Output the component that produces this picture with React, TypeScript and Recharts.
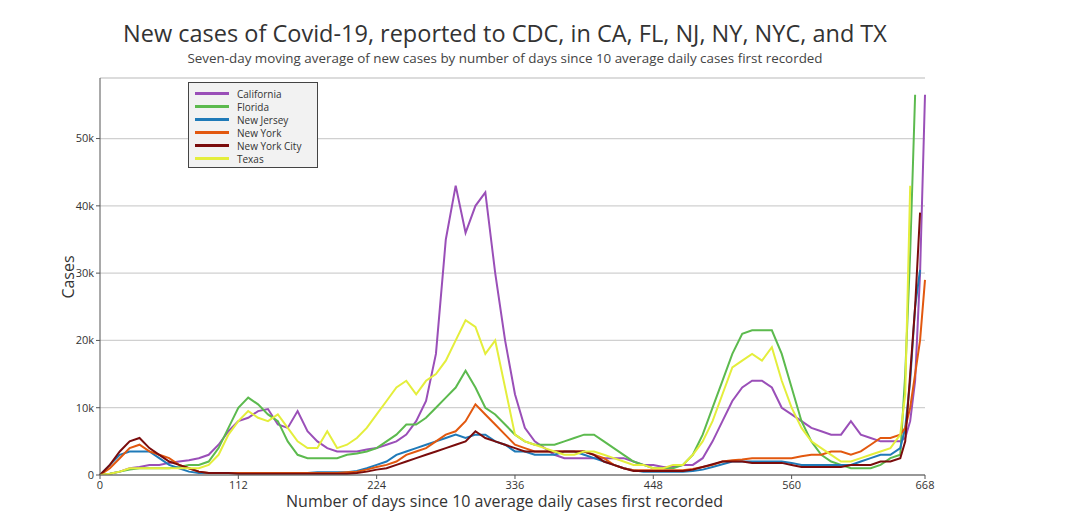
import { LineChart, Line, XAxis, YAxis, CartesianGrid } from 'recharts';

// days since 10 average daily cases first recorded
const days = [
  0, 8, 16, 24, 32, 40, 48, 56, 64, 72,
  80, 88, 96, 104, 112, 120, 128, 136, 144, 152,
  160, 168, 176, 184, 192, 200, 208, 216, 224, 232,
  240, 248, 256, 264, 272, 280, 288, 296, 304, 312,
  320, 328, 336, 344, 352, 360, 368, 376, 384, 392,
  400, 408, 416, 424, 432, 440, 448, 456, 464, 472,
  480, 488, 496, 504, 512, 520, 528, 536, 544, 552,
  560, 568, 576, 584, 592, 600, 608, 616, 624, 632,
  640, 648, 652, 656, 660, 664, 668,
];

// seven-day averages, thousands of cases
const california = [
  0, 0.2, 0.5, 1, 1.2, 1.5, 1.5, 1.8, 2, 2.2,
  2.5, 3, 4.5, 6.5, 8, 8.5, 9.5, 9.8, 7.5, 7,
  9.5, 6.5, 5, 4, 3.5, 3.5, 3.5, 3.8, 4, 4.5,
  5, 6, 8, 11, 18, 35, 43, 36, 40, 42,
  30, 20, 12, 7, 5, 4, 3, 2.5, 2.5, 2.5,
  2.5, 2.5, 2.5, 2.5, 2, 1.5, 1.5, 1.2, 1.2, 1.5,
  1.5, 2.5, 5, 8, 11, 13, 14, 14, 13, 10,
  9, 8, 7, 6.5, 6, 6, 8, 6, 5.5, 5,
  5, 5, 5.5, 8, 14, 30, 56.5,
];
const florida = [
  0, 0.2, 0.5, 0.8, 1, 1, 1, 1, 1.2, 1.5,
  1.5, 2, 4, 7, 10, 11.5, 10.5, 9, 8, 5,
  3, 2.5, 2.5, 2.5, 2.5, 3, 3.2, 3.5, 4, 5,
  6, 7.5, 7.5, 8.5, 10, 11.5, 13, 15.5, 13, 10,
  9, 7.5, 6, 5, 4.5, 4.5, 4.5, 5, 5.5, 6,
  6, 5, 4, 3, 2, 1.5, 1, 1, 1, 1.5,
  3, 6, 10, 14, 18, 21, 21.5, 21.5, 21.5, 18,
  13, 8, 5, 3, 2, 1.5, 1, 1, 1, 1.5,
  2.5, 3, 15, 33, 56.5, null, null,
];
const newJersey = [
  0, 1.5, 3, 3.5, 3.5, 3.5, 2.5, 1.5, 1, 0.5,
  0.3, 0.3, 0.3, 0.3, 0.3, 0.3, 0.3, 0.3, 0.3, 0.3,
  0.3, 0.3, 0.4, 0.4, 0.4, 0.4, 0.6, 1, 1.5, 2,
  3, 3.5, 4, 4.5, 5, 5.5, 6, 5.5, 6, 6,
  5, 4.5, 3.5, 3.5, 3, 3, 3, 3.5, 3.5, 3,
  2.5, 2, 1.5, 1, 0.7, 0.5, 0.5, 0.5, 0.5, 0.5,
  0.6, 0.8, 1.2, 1.6, 2, 2, 2, 2, 2, 2,
  1.8, 1.5, 1.5, 1.5, 1.5, 1.5, 1.5, 2, 2.5, 3,
  3, 4, 7, 14, 25, 30.5, null,
];
const newYork = [
  0, 1, 2.5, 4, 4.5, 3.5, 3, 2.5, 1.5, 1,
  0.5, 0.3, 0.3, 0.3, 0.3, 0.3, 0.3, 0.3, 0.3, 0.3,
  0.3, 0.3, 0.3, 0.3, 0.3, 0.4, 0.5, 0.8, 1.2, 1.5,
  2, 3, 3.5, 4, 5, 6, 6.5, 8, 10.5, 9,
  7.5, 6, 4.5, 4, 3.5, 3.5, 3.5, 3.5, 3.5, 3.5,
  3, 2.5, 1.5, 1, 0.7, 0.7, 0.7, 0.7, 0.7, 0.7,
  0.9, 1.2, 1.5, 2, 2.2, 2.3, 2.5, 2.5, 2.5, 2.5,
  2.5, 2.8, 3, 3, 3.5, 3.5, 3, 3.5, 4.5, 5.5,
  5.5, 6, 7, 10, 15, 20, 29,
];
const newYorkCity = [
  0, 1.5, 3.5, 5, 5.5, 4, 3, 2, 1.5, 1,
  0.5, 0.3, 0.3, 0.3, 0.2, 0.2, 0.2, 0.2, 0.2, 0.2,
  0.2, 0.2, 0.2, 0.2, 0.2, 0.2, 0.3, 0.5, 0.8, 1,
  1.5, 2, 2.5, 3, 3.5, 4, 4.5, 5, 6.5, 5.5,
  5, 4.5, 4, 3.5, 3.5, 3.5, 3.5, 3.5, 3.5, 3.5,
  3, 2, 1.5, 1, 0.6, 0.6, 0.6, 0.6, 0.6, 0.6,
  0.8, 1.2, 1.6, 2, 2, 2, 1.8, 1.8, 1.8, 1.8,
  1.5, 1.2, 1.2, 1.2, 1.2, 1.2, 1.5, 1.5, 1.5, 2,
  2, 2.5, 5, 15, 25, 39, null,
];
const texas = [
  0, 0.2, 0.5, 1, 1, 1, 1, 1, 1, 1,
  1, 1.5, 3, 6, 8, 9.5, 8.5, 8, 9, 7,
  5, 4, 4, 6.5, 4, 4.5, 5.5, 7, 9, 11,
  13, 14, 12, 14, 15, 17, 20, 23, 22, 18,
  20, 13, 6, 5, 4.5, 4, 3.5, 3, 3, 3.5,
  3.5, 3, 2.5, 2, 1.5, 1.5, 1, 1, 1.5, 1.5,
  3, 5, 8, 12, 16, 17, 18, 17, 19, 14,
  10, 7, 5, 4, 3, 2, 2, 2.5, 3, 3.5,
  4, 6, 12, 43, null, null, null,
];

const xTicks = [0, 112, 224, 336, 448, 560, 668];
const yTicks = [0, 10000, 20000, 30000, 40000, 50000];

const series = [
  { key: 'California', values: california, color: '#9a4fb8' },
  { key: 'Florida', values: florida, color: '#5cba4e' },
  { key: 'New Jersey', values: newJersey, color: '#1f7ab8' },
  { key: 'New York', values: newYork, color: '#e2580f' },
  { key: 'New York City', values: newYorkCity, color: '#7a0c0c' },
  { key: 'Texas', values: texas, color: '#e4ee3c' },
];

const rows = days.map((d, i) => {
  const row: Record<string, number | null> = { day: d };
  series.forEach((s) => {
    const v = s.values[i];
    row[s.key] = v == null ? null : v * 1000;
  });
  return row;
});

const font = '"Open Sans", sans-serif';

export default function App() {
  return (
    <div style={{ position: 'absolute', left: 0, top: 0, width: 1080, height: 526, background: '#fff', fontFamily: font }}>
      <div style={{ position: 'absolute', top: 17, left: 0, width: 1010, textAlign: 'center', fontSize: 23.5, color: '#333' }}>
        New cases of Covid-19, reported to CDC, in CA, FL, NJ, NY, NYC, and TX
      </div>
      <div style={{ position: 'absolute', top: 49, left: 0, width: 1010, textAlign: 'center', fontSize: 13.4, color: '#444' }}>
        Seven-day moving average of new cases by number of days since 10 average daily cases first recorded
      </div>
      <div style={{ position: 'absolute', left: 57, top: 277, transform: 'rotate(-90deg)', transformOrigin: 'left top', fontSize: 16, color: '#333' }}>
        <span style={{ display: 'block', transform: 'translateX(-50%)' }}>Cases</span>
      </div>
      <div style={{ position: 'absolute', top: 492, left: 92, width: 825, textAlign: 'center', fontSize: 16, lineHeight: '18px', color: '#333' }}>
        Number of days since 10 average daily cases first recorded
      </div>
      <LineChart width={1080} height={526} data={rows} margin={{ top: 78, right: 155, left: 0, bottom: 0 }}>
        <CartesianGrid vertical={false} stroke="#d0d0d0" strokeWidth={1.3} />
        <XAxis dataKey="day" type="number" domain={[0, 668]} ticks={xTicks} height={51}
          tick={{ fontSize: 11, fill: '#333' }} stroke="#555" tickSize={4} />
        <YAxis type="number" domain={[0, 59000]} ticks={yTicks} width={100} allowDataOverflow
          tickFormatter={(v: number) => (v === 0 ? '0' : `${v / 1000}k`)}
          tick={{ fontSize: 11, fill: '#333' }} stroke="#555" tickSize={4} />
        {series.map((s) => (
          <Line key={s.key} dataKey={s.key} stroke={s.color} strokeWidth={2} dot={false}
            type="linear" isAnimationActive={false} />
        ))}
      </LineChart>
      <div style={{ position: 'absolute', left: 188, top: 82, width: 130, height: 86, boxSizing: 'border-box', border: '1px solid #444', background: '#f2f2f2', padding: '4px 6px', fontSize: 10, color: '#333' }}>
        {series.map((s) => (
          <div key={s.key} style={{ display: 'flex', alignItems: 'center', height: 13 }}>
            <span style={{ display: 'inline-block', width: 34, height: 3, background: s.color, marginRight: 8 }} />
            {s.key}
          </div>
        ))}
      </div>
    </div>
  );
}
